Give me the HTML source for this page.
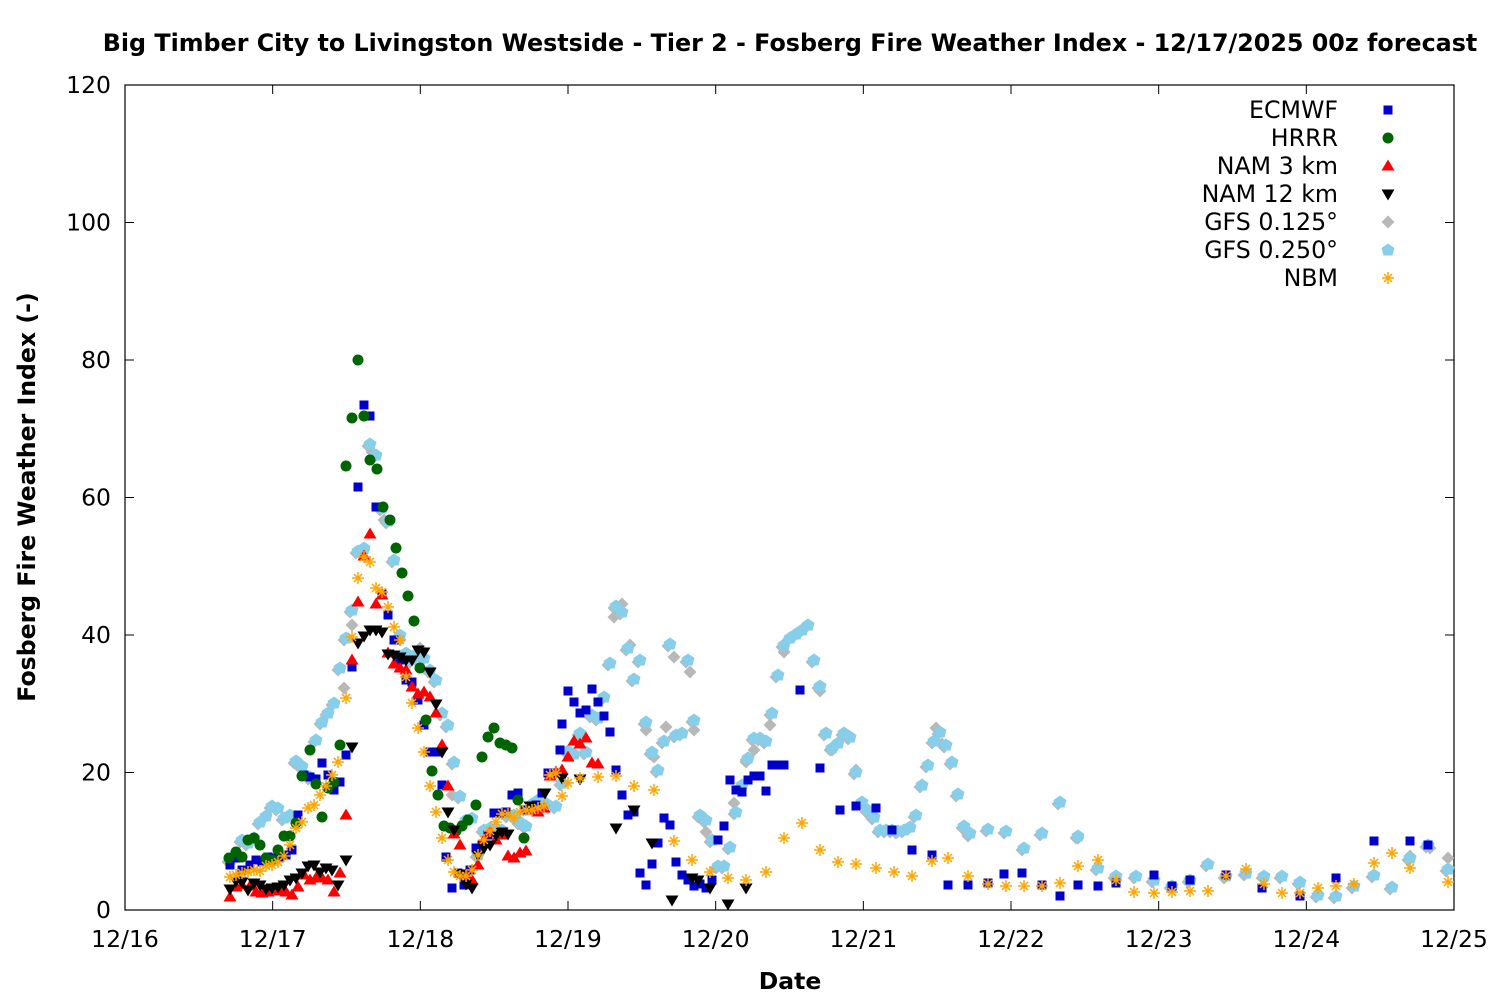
<!DOCTYPE html>
<html><head><meta charset="utf-8"><style>
html,body{margin:0;padding:0;background:#fff;width:1500px;height:1000px;overflow:hidden}
svg{display:block;font-family:"DejaVu Sans","Liberation Sans",sans-serif}
</style></head><body>
<svg id="s" width="1500" height="1000" xmlns="http://www.w3.org/2000/svg">
<rect width="1500" height="1000" fill="#fff"/>
<text x="790" y="51" text-anchor="middle" font-size="23.8" font-weight="bold">Big Timber City to Livingston Westside - Tier 2 - Fosberg Fire Weather Index - 12/17/2025 00z forecast</text>
<rect x="125" y="85" width="1329" height="825" fill="none" stroke="#000" stroke-width="1.2"/>
<g id="ticks" font-size="23.5"></g>
<text x="790" y="989" text-anchor="middle" font-size="23.5" font-weight="bold">Date</text>
<text transform="translate(35,497) rotate(-90)" text-anchor="middle" font-size="23.6" font-weight="bold">Fosberg Fire Weather Index (-)</text>
<g font-size="23.7" text-anchor="end">
<text x="1338" y="118">ECMWF</text>
<text x="1338" y="146">HRRR</text>
<text x="1338" y="174">NAM 3 km</text>
<text x="1338" y="202">NAM 12 km</text>
<text x="1338" y="230">GFS 0.125°</text>
<text x="1338" y="258">GFS 0.250°</text>
<text x="1338" y="286">NBM</text>
</g>
<g id="pts"></g>
</svg>
<script>
const NS="http://www.w3.org/2000/svg";
const tk=document.getElementById('ticks'),pg=document.getElementById('pts');
function el(p,t,a,txt){const e=document.createElementNS(NS,t);for(const k in a)e.setAttribute(k,a[k]);if(txt)e.textContent=txt;p.appendChild(e);return e;}
for(let i=0;i<=6;i++){const y=910-i*137.5;el(tk,'line',{x1:125,y1:y,x2:134,y2:y,stroke:'#000'});el(tk,'line',{x1:1454,y1:y,x2:1445,y2:y,stroke:'#000'});el(tk,'text',{x:111,y:y+8,'text-anchor':'end'},String(i*20));}
for(let i=0;i<=9;i++){const x=125+i*147.667;el(tk,'line',{x1:x,y1:910,x2:x,y2:901,stroke:'#000'});el(tk,'line',{x1:x,y1:85,x2:x,y2:94,stroke:'#000'});el(tk,'text',{x:x,y:947,'text-anchor':'middle'},'12/'+(16+i));}
function P(s){return s.trim().split(/\s+/).map(v=>v.split(',').map(Number));}
function draw(t,x,y){
 if(t==0)el(pg,'rect',{x:x-4.5,y:y-4.5,width:9,height:9,fill:'#0000cc'});
 else if(t==1)el(pg,'circle',{cx:x,cy:y,r:5.5,fill:'#006400'});
 else if(t==2)el(pg,'polygon',{points:`${x},${y-6.5} ${x+6.5},${y+4.5} ${x-6.5},${y+4.5}`,fill:'#ff0000'});
 else if(t==3)el(pg,'polygon',{points:`${x},${y+6.5} ${x+6.5},${y-4.5} ${x-6.5},${y-4.5}`,fill:'#000'});
 else if(t==4)el(pg,'polygon',{points:`${x},${y-6.5} ${x+6.5},${y} ${x},${y+6.5} ${x-6.5},${y}`,fill:'#b8b8b8'});
 else if(t==5)el(pg,'polygon',{points:`${x},${y-6.5} ${x+6.5},${y-2} ${x+4.5},${y+5.5} ${x-4.5},${y+5.5} ${x-6.5},${y-2}`,fill:'#87ceeb'});
 else {const g=el(pg,'g',{stroke:'#ffa500','stroke-width':1.5});el(g,'line',{x1:x-6,y1:y,x2:x+6,y2:y});el(g,'line',{x1:x,y1:y-6,x2:x,y2:y+6});el(g,'line',{x1:x-4,y1:y-4,x2:x+4,y2:y+4});el(g,'line',{x1:x-4,y1:y+4,x2:x+4,y2:y-4});}
}
const E=P(`230,865 236,858 242,870 250,865 256,860 262,862 268,857 274,858 280,857 286,855 292,850 298,815 304,775 310,777 316,779 322,763 328,775 334,790 340,782 346,755 352,667 358,487 364,405 370,416 376,507 382,594 388,615 394,640 400,660 406,680 412,682 418,700 424,725 430,752 436,752 442,785 446,857 452,888 458,873 464,885 470,870 476,848 482,845 488,835 494,813 500,813 506,812 512,795 518,793 524,810 530,810 536,805 542,793 548,773 554,773 560,750 562,724 568,691 574,702 580,713 586,710 592,689 598,702 604,716 610,732 616,770 622,795 628,815 634,812 640,873 646,885 652,864 658,843 664,818 670,825 676,862 682,875 688,880 694,886 700,884 706,888 712,880 718,840 724,826 730,780 736,790 742,792 748,780 754,776 760,776 766,791 772,765 778,765 784,765 800,690 820,768 840,810 856,806 876,808 892,830 912,850 932,855 948,885 968,885 988,883 1004,874 1022,873 1042,885 1060,896 1078,885 1098,886 1116,883 1154,875 1172,886 1190,880 1226,875 1262,888 1300,896 1336,878 1374,841 1410,841 1428,845`);
const H=P(`229,858 236,852 242,857 248,840 254,838 260,845 266,858 272,860 278,850 284,836 290,836 296,823 302,776 310,750 316,784 322,817 328,788 334,782 340,745 346,466 352,418 358,360 364,416 370,460 377,469 383,507 390,520 396,548 402,573 408,596 414,621 420,668 426,720 432,771 438,795 444,826 450,828 456,831 462,826 468,820 476,805 482,757 488,737 494,728 500,743 506,745 512,748 518,800 524,838`);
const N3=P(`230,897 236,887 242,885 250,886 256,892 262,893 268,892 274,890 280,891 286,892 292,895 298,887 304,875 310,880 316,878 322,878 328,880 334,892 340,873 346,815 352,660 358,602 364,556 370,534 376,604 382,595 388,653 394,664 400,668 406,670 412,687 418,694 424,692 430,697 436,713 442,745 448,786 454,834 460,845 466,875 472,880 478,865 484,840 490,832 496,840 502,835 508,856 514,858 520,853 526,851 532,810 538,812 544,808 550,776 556,772 562,770 568,757 574,741 580,744 586,738 592,763 598,764`);
const N12=P(`230,889 236,881 242,882 248,890 254,883 260,885 266,889 272,888 278,887 284,885 290,880 296,878 302,873 308,866 314,865 320,872 326,868 332,870 338,885 346,860 352,747 358,643 364,636 370,630 376,630 382,632 388,654 394,655 400,657 406,660 412,660 418,650 424,652 430,672 436,704 442,752 448,812 454,830 460,874 466,884 472,888 478,855 484,848 490,845 496,835 502,832 508,834 530,806 545,793 562,778 580,779 616,828 634,810 652,843 672,900 692,878 698,880 710,888 728,904 746,888`);
const G=P(`230,860 236,856 242,840 248,843 254,838 260,822 266,816 272,806 278,808 284,818 290,815 296,761 302,766 310,777 316,740 322,722 328,713 334,703 340,668 346,638 352,610 358,551 364,548 370,444 376,455 382,508 388,521 394,560 400,635 406,653 412,660 418,653 424,658 430,670 436,680 442,713 448,725 454,762 460,796 466,820 472,818 478,855 484,830 490,828 496,828 502,830 508,815 514,815 520,822 526,826 532,804 538,800 544,802 550,806 556,806 562,783 568,751 574,754 580,733 586,752 592,715 598,718 604,697 610,663 616,606 622,612 628,648 634,679 640,660 646,722 652,752 658,770 664,741 670,644 676,735 682,733 688,660 694,720 700,815 706,820 712,840 718,866 724,866 730,847 736,812 742,785 748,758 754,738 760,738 766,741 772,713 778,675 784,645 790,638 796,634 802,630 808,625 814,660 820,686 826,733 832,748 838,743 844,733 850,737 856,772 862,802 868,810 874,817 880,830 886,830 892,830 898,831 904,830 910,827 916,815 922,785 928,765 934,741 940,732 946,745 952,762 958,794 964,826 970,833 988,829 1006,831 1024,848 1042,833 1060,802 1078,836 1098,868 1116,876 1136,876 1154,880 1172,886 1190,880 1208,864 1226,876 1246,873 1264,876 1282,876 1300,882 1318,895 1336,896 1354,886 1374,875 1392,887 1410,858 1428,845 1448,869`);
const G2=P(`614,617 622,604 630,645 646,730 654,757 666,727 674,657 690,672 694,730 706,832 734,803 746,762 754,750 770,725 784,652 820,691 832,750 856,770 936,728 942,744 968,836 1078,838 1448,858 1430,848 1410,856 344,688 352,625 372,452 384,520 400,640 420,648 452,795 364,550`);
const NB=P(`230,877 236,875 242,873 248,872 254,870 260,871 266,866 272,865 278,862 284,856 290,845 296,828 302,822 308,808 314,805 320,795 326,786 332,775 338,762 346,698 352,637 358,578 364,557 370,562 376,588 382,592 388,607 394,627 400,640 406,677 412,703 418,728 424,752 430,786 436,812 442,838 448,860 454,872 460,876 466,876 472,870 478,855 484,840 490,831 496,822 502,814 508,814 514,818 520,812 526,810 532,810 538,808 544,806 550,775 556,773 562,796 568,783 580,778 598,777 616,776 634,786 654,790 674,841 692,860 710,872 728,878 746,880 766,872 784,838 802,823 820,850 838,862 856,864 876,868 894,872 912,876 932,861 948,858 968,876 988,884 1006,886 1024,886 1042,886 1060,883 1078,866 1098,860 1116,880 1134,892 1154,893 1172,892 1190,891 1208,891 1226,876 1246,869 1264,884 1282,893 1300,893 1318,888 1336,886 1354,884 1374,863 1392,853 1410,868 1448,882`);
G.forEach(p=>draw(4,p[0]-2,p[1]+2));G2.forEach(p=>draw(4,p[0],p[1]));
G.forEach(p=>draw(5,p[0],p[1]));
E.forEach(p=>draw(0,p[0],p[1]));
H.forEach(p=>draw(1,p[0],p[1]));
N3.forEach(p=>draw(2,p[0],p[1]));
N12.forEach(p=>draw(3,p[0],p[1]));
NB.forEach(p=>draw(6,p[0],p[1]));
[0,1,2,3,4,5,6].forEach(i=>draw(i,1388,110+i*28));
</script>
</body></html>
